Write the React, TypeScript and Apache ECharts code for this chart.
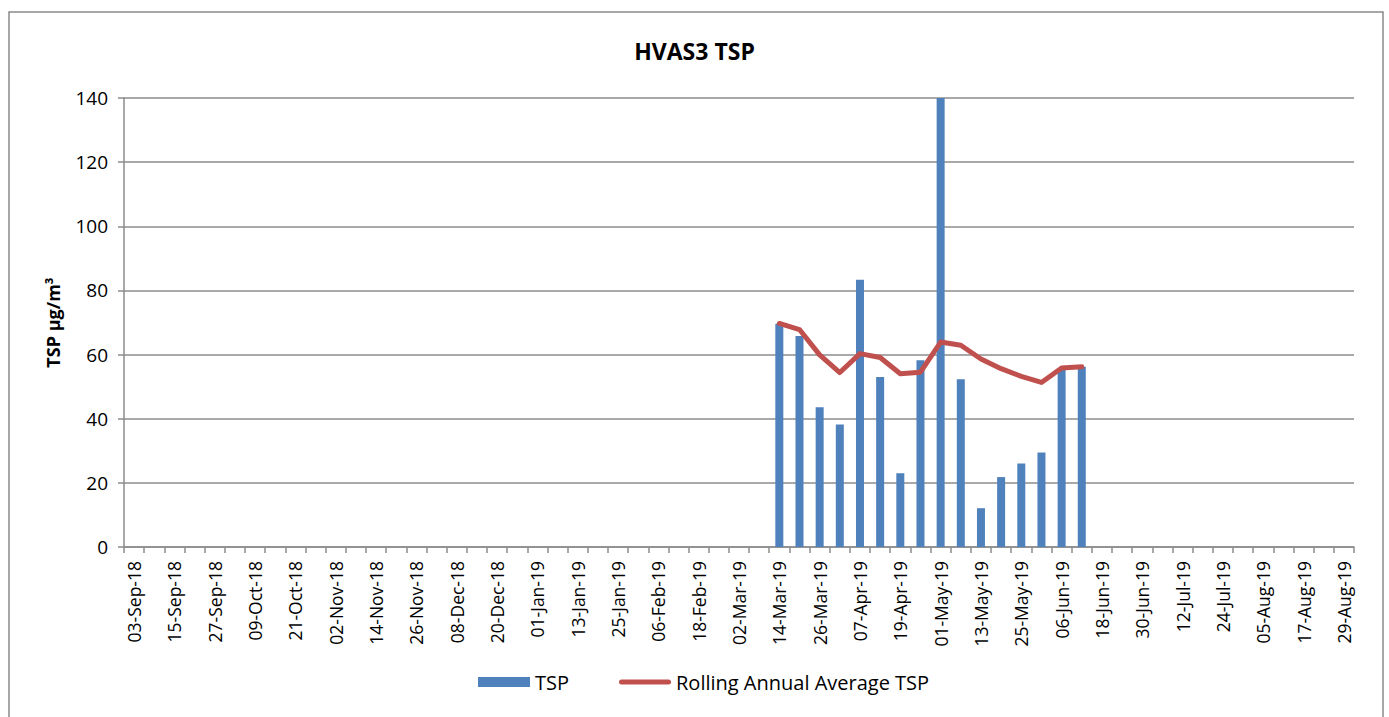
import React, { useEffect, useRef } from "react";
import * as echarts from "echarts";

const categories: string[] = [
  "03-Sep-18", "09-Sep-18", "15-Sep-18", "21-Sep-18", "27-Sep-18",
  "03-Oct-18", "09-Oct-18", "15-Oct-18", "21-Oct-18", "27-Oct-18",
  "02-Nov-18", "08-Nov-18", "14-Nov-18", "20-Nov-18", "26-Nov-18",
  "02-Dec-18", "08-Dec-18", "14-Dec-18", "20-Dec-18", "26-Dec-18",
  "01-Jan-19", "07-Jan-19", "13-Jan-19", "19-Jan-19", "25-Jan-19", "31-Jan-19",
  "06-Feb-19", "12-Feb-19", "18-Feb-19", "24-Feb-19",
  "02-Mar-19", "08-Mar-19", "14-Mar-19", "20-Mar-19", "26-Mar-19",
  "01-Apr-19", "07-Apr-19", "13-Apr-19", "19-Apr-19", "25-Apr-19",
  "01-May-19", "07-May-19", "13-May-19", "19-May-19", "25-May-19", "31-May-19",
  "06-Jun-19", "12-Jun-19", "18-Jun-19", "24-Jun-19", "30-Jun-19",
  "06-Jul-19", "12-Jul-19", "18-Jul-19", "24-Jul-19", "30-Jul-19",
  "05-Aug-19", "11-Aug-19", "17-Aug-19", "23-Aug-19", "29-Aug-19",
];

const sampleDates: string[] = [
  "14-Mar-19", "20-Mar-19", "26-Mar-19", "01-Apr-19", "07-Apr-19", "13-Apr-19",
  "19-Apr-19", "25-Apr-19", "01-May-19", "07-May-19", "13-May-19", "19-May-19",
  "25-May-19", "31-May-19", "06-Jun-19", "12-Jun-19",
];

const tspValues: number[] = [
  69.6, 65.8, 43.6, 38.2, 83.3, 53.0, 23.0, 58.2, 140, 52.3, 12.1, 21.8, 26.0, 29.5, 55.4, 56.2,
];

const rollingValues: number[] = [
  69.7, 67.8, 59.9, 54.4, 60.3, 59.1, 54.0, 54.5, 63.9, 62.9, 58.6, 55.6, 53.2, 51.3, 55.8, 56.2,
];

const yTicks: number[] = [0, 20, 40, 60, 80, 100, 120, 140];

const FONT = "'Open Sans', 'Noto Sans', sans-serif";

export default function App() {
  const ref = useRef<HTMLDivElement>(null);

  useEffect(() => {
    if (!ref.current) return;
    const chart = echarts.init(ref.current, undefined, { renderer: "svg" });

    const lookup = (vals: number[]) =>
      categories.map((c) => {
        const i = sampleDates.indexOf(c);
        return i >= 0 ? vals[i] : null;
      });

    chart.setOption({
      animation: false,
      backgroundColor: "#ffffff",
      textStyle: { fontFamily: FONT },
      title: {
        text: "HVAS3 TSP",
        left: "center",
        top: 34,
        textStyle: { fontFamily: FONT, fontSize: 23, fontWeight: "bold", color: "#000" },
      },
      graphic: [
        {
          type: "rect",
          shape: { x: 9, y: 12, width: 1374, height: 720 },
          style: { fill: "none", stroke: "#8a8a8a", lineWidth: 1.5 },
          silent: true,
        },
      ],
      legend: {
        top: 672,
        left: 478,
        padding: 0,
        itemGap: 50,
        itemWidth: 52,
        itemHeight: 10,
        textStyle: { fontFamily: FONT, fontSize: 20, color: "#000" },
        data: [
          { name: "TSP", icon: "rect" },
          {
            name: "Rolling Annual Average TSP",
            icon: "path://M2.5,0 L49.5,0 A2.5,2.5 0 0 1 49.5,5 L2.5,5 A2.5,2.5 0 0 1 2.5,0 Z",
          },
        ],
      },
      grid: { left: 124, right: 35, top: 98, bottom: 170, containLabel: false },
      xAxis: {
        type: "category",
        data: categories,
        boundaryGap: true,
        axisLine: { lineStyle: { color: "#8c8c8c", width: 1.5 } },
        axisTick: { show: true, interval: 0, length: 6, lineStyle: { color: "#8c8c8c", width: 1.5 } },
        axisLabel: {
          interval: 1,
          rotate: 90,
          fontFamily: FONT,
          fontSize: 17.5,
          color: "#000",
          margin: 14,
        },
        splitLine: { show: false },
      },
      yAxis: {
        type: "value",
        min: 0,
        max: 140,
        interval: 20,
        name: "TSP µg/m³",
        nameLocation: "middle",
        nameGap: 62,
        nameTextStyle: { fontFamily: FONT, fontSize: 18, fontWeight: "bold", color: "#000" },
        axisLine: { show: true, lineStyle: { color: "#8c8c8c", width: 1.5 } },
        axisTick: { show: true, length: 6, lineStyle: { color: "#8c8c8c", width: 1.5 } },
        axisLabel: {
          fontFamily: FONT,
          fontSize: 19,
          color: "#000",
          margin: 16,
          formatter: (v: number) => (yTicks.includes(v) ? String(v) : ""),
        },
        splitLine: { show: true, lineStyle: { color: "#8c8c8c", width: 1.5 } },
      },
      series: [
        {
          name: "TSP",
          type: "bar",
          data: lookup(tspValues),
          barWidth: 8,
          itemStyle: { color: "#4F81BD" },
        },
        {
          name: "Rolling Annual Average TSP",
          type: "line",
          data: lookup(rollingValues),
          connectNulls: false,
          symbol: "none",
          lineStyle: { color: "#C0504D", width: 5, cap: "round", join: "round" },
          itemStyle: { color: "#C0504D" },
        },
      ],
    });

    return () => chart.dispose();
  }, []);

  return (
    <div
      ref={ref}
      style={{ position: "fixed", left: 0, top: 0, width: 1389, height: 717 }}
    />
  );
}
